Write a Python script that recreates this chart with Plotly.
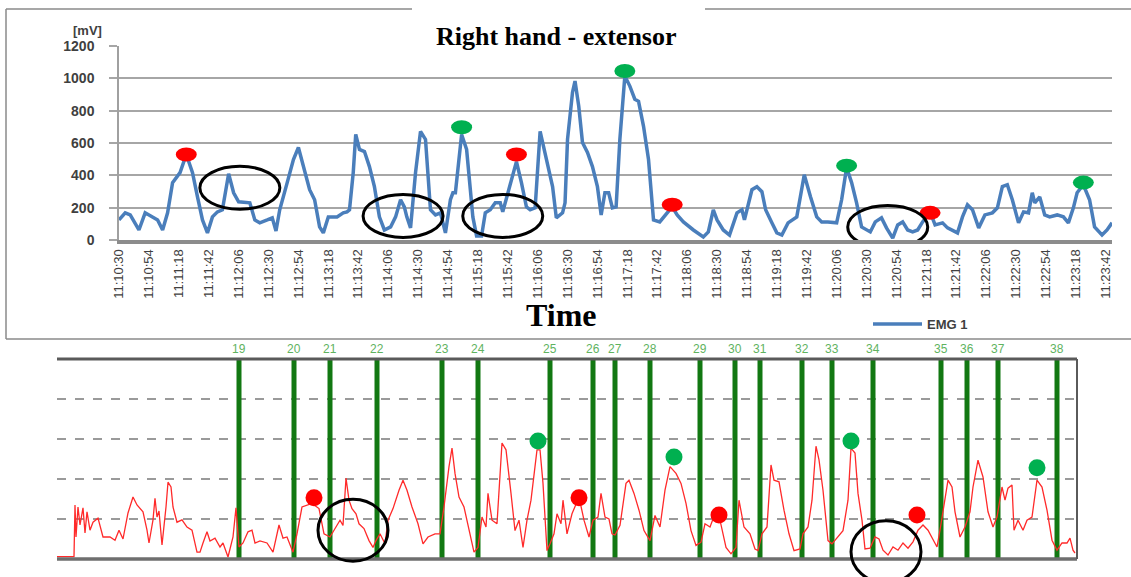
import plotly.graph_objects as go

W, H = 1131, 577

# ---------------- top chart: EMG 1, seconds after 11:10:30 and mV ----------------
emg_t = [0, 5, 9, 16, 21, 26, 31, 35, 39, 43, 49, 54, 59, 63, 67, 71, 75, 79, 83, 88,
         92, 96, 101, 105, 109, 113, 119, 123, 126, 129, 135, 140, 144, 148, 153, 157,
         161, 164, 168, 175, 180, 183, 185, 188, 190, 193, 197, 201, 205, 209, 213, 218,
         222, 226, 229, 231, 234, 238, 242, 246, 250, 254, 258, 262, 266, 268, 270, 275,
         279, 282, 284, 287, 291, 294, 298, 302, 306, 308, 312, 319, 323, 327, 330, 334,
         338, 342, 344, 348, 351, 356, 358, 360, 364, 366, 369, 372, 376, 380, 384, 387,
         390, 393, 396, 399, 402, 406, 410, 414, 417, 421, 425, 429, 434, 440, 444, 448,
         453, 461, 469, 473, 477, 480, 485, 490, 496, 500, 502, 508, 512, 516, 519, 524,
         528, 532, 537, 544, 550, 555, 560, 564, 569, 576, 580, 584, 588, 592, 596, 603,
         607, 612, 616, 621, 625, 629, 633, 637, 641, 645, 651, 655, 661, 665, 673, 677,
         681, 685, 690, 695, 701, 705, 709, 713, 717, 722, 726, 730, 733, 735, 739, 743,
         747, 753, 758, 762, 766, 769, 774, 779, 783, 789, 793, 797]
emg_v = [124, 168, 155, 62, 168, 143, 124, 62, 168, 355, 417, 529, 417, 267, 124, 44, 143, 174, 187, 410,
         292, 236, 230, 230, 124, 106, 124, 137, 56, 187, 355, 498, 572, 454, 311, 249,
         81, 44, 143, 143, 168, 174, 187, 417, 653, 560, 547, 454, 330, 143, 62, 81,
         143, 249, 205, 143, 75, 417, 672, 622, 187, 155, 168, 44, 249, 292, 292, 653,
         560, 311, 143, 25, 25, 168, 187, 230, 230, 174, 292, 485, 355, 205, 187, 199,
         672, 541, 479, 330, 137, 168, 230, 622, 914, 983, 827, 603, 541, 454, 330, 155,
         292, 292, 199, 205, 622, 1014, 952, 871, 858, 703, 498, 124, 112, 168, 205, 155,
         112, 62, 19, 50, 187, 124, 62, 31, 168, 187, 124, 311, 330, 299, 187, 106,
         44, 31, 106, 143, 404, 267, 143, 112, 112, 106, 249, 448, 355, 230, 81, 50,
         112, 137, 75, 12, 93, 112, 62, 50, 62, 112, 174, 93, 106, 75, 44, 143,
         218, 187, 75, 155, 168, 199, 330, 342, 249, 106, 174, 168, 292, 230, 267, 155,
         143, 155, 143, 106, 199, 292, 342, 249, 81, 31, 62, 106]

tick_seconds = list(range(0, 793, 24))
tick_labels = ["11:10:30", "11:10:54", "11:11:18", "11:11:42", "11:12:06", "11:12:30",
               "11:12:54", "11:13:18", "11:13:42", "11:14:06", "11:14:30", "11:14:54",
               "11:15:18", "11:15:42", "11:16:06", "11:16:30", "11:16:54", "11:17:18",
               "11:17:42", "11:18:06", "11:18:30", "11:18:54", "11:19:18", "11:19:42",
               "11:20:06", "11:20:30", "11:20:54", "11:21:18", "11:21:42", "11:22:06",
               "11:22:30", "11:22:54", "11:23:18", "11:23:42"]

top_red_t = [54, 319, 444, 651]
top_red_v = [529, 529, 218, 168]
top_green_t = [275, 406, 584, 774]
top_green_v = [697, 1045, 460, 355]
top_ring_t = [97, 228, 308, 617]
top_ring_v = [323, 149, 149, 81]

# ---------------- bottom chart: raw signal with numbered events ----------------
event_pos = [182, 237, 273, 320, 385, 421, 493, 536, 558, 593,
             643, 678, 703, 745, 775, 816, 884, 910, 941, 1000]
event_labels = [str(n) for n in range(19, 39)]

sig_u = [0, 17, 18, 19, 21, 23, 26, 28, 30, 33, 36, 41, 46, 53, 58, 62, 66, 71, 76, 80,
         86, 90, 92, 96, 98, 100, 102, 105, 109, 111, 114, 116, 120, 125, 130, 135, 140, 143, 146, 150,
         153, 158, 163, 166, 171, 176, 179, 182, 186, 191, 195, 198, 203, 210, 216, 222, 226, 230, 236, 240,
         245, 250, 255, 262, 267, 273, 278, 283, 286, 289, 292, 295, 299, 302, 307, 312, 316, 319, 323, 328,
         331, 336, 342, 346, 350, 355, 361, 366, 371, 378, 383, 387, 392, 395, 398, 402, 407, 412, 417, 421,
         425, 429, 431, 435, 440, 445, 449, 454, 458, 462, 466, 470, 474, 480, 483, 486, 490, 493, 497, 500,
         504, 506, 510, 515, 522, 527, 532, 536, 541, 544, 548, 552, 555, 558, 563, 569, 572, 577, 582, 587,
         593, 598, 603, 608, 613, 619, 624, 629, 634, 639, 644, 648, 653, 658, 663, 669, 674, 679, 682, 687,
         693, 698, 701, 705, 710, 714, 717, 722, 727, 732, 737, 743, 746, 751, 755, 759, 762, 766, 771, 775,
         781, 786, 791, 794, 798, 801, 805, 808, 813, 818, 822, 826, 831, 836, 841, 846, 851, 856, 861, 866,
         871, 876, 880, 883, 888, 891, 895, 898, 903, 908, 913, 916, 921, 926, 931, 936, 940, 945, 948, 951,
         955, 957, 961, 966, 970, 975, 980, 985, 990, 995, 1000, 1005, 1010, 1013, 1016, 1018]
sig_v = [0.06, 0.06, 1.35, 0.55, 1.3, 0.85, 1.28, 0.65, 1.18, 0.72, 0.92, 1.02, 0.55, 0.55, 0.47, 0.72, 0.5, 1.15, 1.55, 1.35,
         1.18, 0.72, 0.4, 0.98, 1.52, 1.05, 1.2, 0.35, 1.3, 1.92, 1.8, 1.3, 0.92, 0.98, 0.8, 0.72, 0.17, 0.17, 0.4, 0.68,
         0.45, 0.52, 0.3, 0.4, 0.05, 0.55, 1.28, 0.3, 0.4, 0.68, 0.72, 0.4, 0.45, 0.4, 0.17, 0.85, 0.52, 0.55, 0.17, 0.63,
         1.3, 1.34, 1.39, 1.26, 0.63, 0.55, 0.76, 0.97, 0.84, 2.02, 1.47, 1.26, 1.13, 0.88, 0.76, 0.46, 0.29, 0.46, 0.63, 0.38,
         0.97, 1.26, 1.72, 1.97, 1.72, 1.3, 0.88, 0.38, 0.55, 0.63, 0.63, 1.3, 2.31, 2.77, 2.14, 1.55, 1.3, 0.71, 0.17, 0.29,
         1.05, 0.8, 1.64, 0.97, 0.88, 2.9, 2.73, 1.64, 0.71, 0.97, 0.29, 0.97, 1.47, 2.73, 2.73, 1.89, 0.21, 0.38, 0.63, 1.13,
         0.88, 1.47, 0.63, 1.13, 1.55, 0.97, 0.55, 0.97, 1.05, 1.64, 1.05, 1.0, 0.63, 0.6, 0.84, 1.89, 1.97, 1.64, 1.22, 0.71,
         0.46, 1.09, 0.8, 1.72, 2.31, 2.14, 1.89, 1.39, 0.71, 0.34, 0.42, 0.88, 0.8, 1.13, 0.97, 0.29, 0.13, 0.29, 1.47, 0.8,
         0.63, 0.25, 0.21, 0.63, 0.8, 2.35, 1.97, 1.93, 1.22, 0.63, 0.21, 0.25, 0.63, 0.8, 1.47, 2.82, 2.48, 1.72, 0.46, 0.38,
         0.55, 0.71, 1.47, 2.77, 2.65, 1.64, 0.97, 0.25, 0.27, 0.55, 0.5, 0.22, 0.1, 0.3, 0.22, 0.4, 0.27, 0.43, 0.72, 0.85,
         0.72, 0.47, 0.3, 0.72, 1.55, 1.97, 1.8, 1.18, 0.55, 0.8, 1.18, 1.8, 2.47, 2.05, 1.18, 0.8, 1.05, 1.8, 1.47, 1.77,
         1.85, 0.72, 0.97, 0.72, 0.97, 1.05, 1.97, 1.8, 1.22, 0.47, 0.22, 0.4, 0.4, 0.52, 0.22, 0.15]

bot_red_u = [257, 522, 662, 860]
bot_red_v = [1.53, 1.53, 1.1, 1.1]
bot_green_u = [481, 617, 794, 980]
bot_green_v = [2.95, 2.55, 2.95, 2.28]
bot_ring_u = [296, 829]
bot_ring_v = [0.72, 0.18]

RED = "#ff0000"
GREEN = "#00b050"
BLUE = "#4a7ebb"


def px(x):
    return x / W


def py(y):
    return 1 - y / H


BOT_RANGE = [-0.45, 5]

fig = go.Figure()

fig.add_trace(go.Scatter(x=emg_t, y=emg_v, mode="lines", name="EMG 1",
                         line=dict(color=BLUE, width=3.5), xaxis="x", yaxis="y",
                         showlegend=False, hoverinfo="skip"))

ev_x, ev_y = [], []
for p in event_pos:
    ev_x += [p, p, None]
    ev_y += [0, 5, None]
fig.add_trace(go.Scatter(x=ev_x, y=ev_y, mode="lines", line=dict(color="#127812", width=5),
                         xaxis="x2", yaxis="y2", showlegend=False, hoverinfo="skip"))

fig.add_trace(go.Scatter(x=sig_u, y=sig_v, mode="lines", line=dict(color="#ff2a2a", width=1.3),
                         xaxis="x2", yaxis="y2", showlegend=False, hoverinfo="skip"))

fig.add_trace(go.Scatter(x=bot_red_u, y=bot_red_v, mode="markers",
                         marker=dict(color=RED, size=17, line=dict(width=0)),
                         xaxis="x2", yaxis="y2", showlegend=False, hoverinfo="skip"))
fig.add_trace(go.Scatter(x=bot_green_u, y=bot_green_v, mode="markers",
                         marker=dict(color=GREEN, size=17, line=dict(width=0)),
                         xaxis="x2", yaxis="y2", showlegend=False, hoverinfo="skip"))

shapes = []
frame = dict(type="line", xref="paper", yref="paper", line=dict(color="#8a8a8a", width=1.5))
shapes.append(dict(frame, x0=px(6), x1=px(6), y0=py(9), y1=py(339)))
shapes.append(dict(frame, x0=px(6), x1=1.0, y0=py(9), y1=py(9)))
shapes.append(dict(frame, x0=px(6), x1=1.0, y0=py(339), y1=py(339)))
shapes.append(dict(type="rect", xref="paper", yref="paper", x0=px(412), x1=px(705),
                   y0=py(53), y1=py(0), fillcolor="white", line=dict(width=0), layer="above"))

for t, v, c in list(zip(top_red_t, top_red_v, [RED] * 4)) + list(zip(top_green_t, top_green_v, [GREEN] * 4)):
    shapes.append(dict(type="circle", xref="x", yref="y", xsizemode="pixel", ysizemode="pixel",
                       xanchor=t, yanchor=v, x0=-10.5, x1=10.5, y0=-7, y1=7,
                       fillcolor=c, line=dict(width=0), layer="above"))
for t, v in zip(top_ring_t, top_ring_v):
    shapes.append(dict(type="circle", xref="x", yref="y", xsizemode="pixel", ysizemode="pixel",
                       xanchor=t, yanchor=v, x0=-40, x1=40, y0=-21.5, y1=21.5,
                       line=dict(color="black", width=3), layer="above"))

zero_frac = (0 - BOT_RANGE[0]) / (BOT_RANGE[1] - BOT_RANGE[0])
shapes.append(dict(type="line", xref="x2 domain", yref="y2 domain", x0=0, x1=1, y0=1, y1=1,
                   line=dict(color="#5a5a5a", width=3), layer="above"))
shapes.append(dict(type="line", xref="x2 domain", yref="y2 domain", x0=0, x1=1,
                   y0=zero_frac, y1=zero_frac, line=dict(color="#6e6e6e", width=3.5), layer="above"))
shapes.append(dict(type="line", xref="x2 domain", yref="y2 domain", x0=1, x1=1,
                   y0=zero_frac, y1=1, line=dict(color="#5a5a5a", width=2), layer="above"))
for u, v in zip(bot_ring_u, bot_ring_v):
    shapes.append(dict(type="circle", xref="x2", yref="y2", xsizemode="pixel", ysizemode="pixel",
                       xanchor=u, yanchor=v, x0=-35, x1=35, y0=-31, y1=31,
                       line=dict(color="black", width=3), layer="above"))

shapes.append(dict(type="line", xref="paper", yref="paper", x0=px(873), x1=px(922),
                   y0=py(324), y1=py(324), line=dict(color=BLUE, width=3.5)))

annotations = [
    dict(text="Right hand - extensor", xref="paper", yref="paper", x=px(556), y=py(36.5),
         xanchor="center", yanchor="middle", showarrow=False,
         font=dict(family="Liberation Serif", size=26, color="black", weight="bold")),
    dict(text="[mV]", xref="paper", yref="paper", x=px(87), y=py(30),
         xanchor="center", yanchor="middle", showarrow=False,
         font=dict(family="Liberation Sans", size=13, color="#404040", weight="bold")),
    dict(text="Time", xref="paper", yref="paper", x=px(561), y=py(315),
         xanchor="center", yanchor="middle", showarrow=False,
         font=dict(family="Liberation Serif", size=32, color="black", weight="bold")),
    dict(text="EMG 1", xref="paper", yref="paper", x=px(925), y=py(324),
         xanchor="left", yanchor="middle", showarrow=False,
         font=dict(family="Liberation Sans", size=13, color="#404040", weight="bold")),
]
for p, lab in zip(event_pos, event_labels):
    annotations.append(dict(text=lab, xref="x2", yref="y2 domain", x=p, y=1, yshift=1,
                            xanchor="center", yanchor="bottom", showarrow=False,
                            font=dict(family="Liberation Sans", size=12, color="#5fb35f")))

# no layout width/height: the figure autosizes to the W x H div written below
fig.update_layout(
    template="none",
    margin=dict(l=0, r=0, t=0, b=0, pad=0, autoexpand=False),
    paper_bgcolor="white", plot_bgcolor="white",
    showlegend=False,
    shapes=shapes, annotations=annotations,
    xaxis=dict(domain=[px(119), px(1112)], range=[0, 797], anchor="y", automargin=False,
               tickmode="array", tickvals=tick_seconds, ticktext=tick_labels,
               tickangle=-90, tickfont=dict(family="Liberation Sans", size=13, color="#404040"),
               showgrid=False, zeroline=False, showline=True, linecolor="#8c8c8c", linewidth=4,
               ticks="", fixedrange=True),
    yaxis=dict(domain=[py(240), py(46)], range=[0, 1200], anchor="x", automargin=False,
               tickmode="array", tickvals=[0, 200, 400, 600, 800, 1000, 1200],
               tickfont=dict(family="Liberation Sans", size=14, color="#404040", weight="bold"),
               showgrid=True, gridcolor="#a6a6a6", gridwidth=1.5, zeroline=False,
               showline=True, linecolor="#a0a0a0", linewidth=1.5,
               ticks="outside", ticklen=8, tickcolor="#a6a6a6", tickwidth=1.5,
               ticklabelstandoff=12, fixedrange=True),
    xaxis2=dict(domain=[px(57), px(1077)], range=[0, 1020], anchor="y2", automargin=False,
                showticklabels=False, showgrid=False, zeroline=False, showline=False,
                ticks="", fixedrange=True),
    yaxis2=dict(domain=[0, py(359)], range=BOT_RANGE, anchor="x2", automargin=False,
                tickmode="array", tickvals=[1, 2, 3, 4, 5], showticklabels=False,
                showgrid=True, gridcolor="#9a9a9a", gridwidth=2, griddash="dash",
                zeroline=False, showline=False, ticks="", fixedrange=True),
)

# the figure div is pinned to the page's top-left corner so the page is exactly W x H
fig.write_html("out.html", config={"displayModeBar": False, "responsive": False},
               default_width=f"{W}px",
               default_height=f"{H}px; position:absolute; top:0; left:0")
